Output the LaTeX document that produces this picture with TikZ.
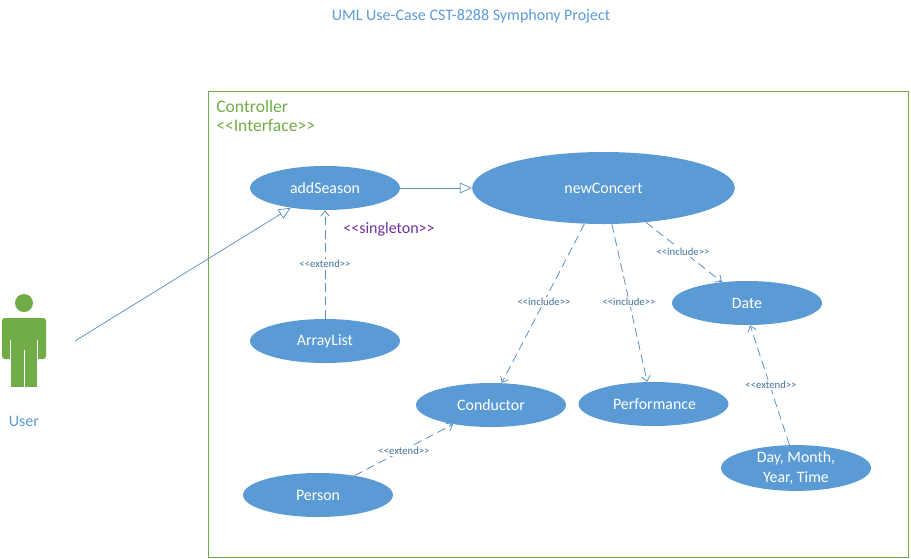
\documentclass[tikz,border=0pt]{standalone}
\usepackage{fontspec}
\setmainfont{Carlito}
\usetikzlibrary{shapes.geometric,arrows.meta}
\definecolor{ublue}{HTML}{5B9BD5}
\definecolor{uline}{HTML}{5B8FC4}
\definecolor{ugreen}{HTML}{70AD47}
\definecolor{utext}{HTML}{41719C}
\definecolor{upurple}{HTML}{7030A0}
\newcommand{\opn}{<\kern0pt<}
\newcommand{\cls}{>\kern0pt>}
\tikzset{
  usecase/.style={ellipse,fill=ublue,text=white,minimum width=112.5pt,minimum height=33pt,inner sep=0pt,font=\fontsize{11.9}{14.2}\selectfont,align=center},
  bigcase/.style={usecase,minimum width=197pt,minimum height=54pt},
  solidgen/.style={draw=uline,line width=0.55pt,-{Triangle[open,length=9pt,width=8pt,fill=white]}},
  dashdep/.style={draw=uline,line width=0.6pt,dash pattern=on 6.5pt off 3.5pt,-{Straight Barb[length=4pt,width=6.5pt]}},
  stereo/.style={text=utext,font=\fontsize{8}{9}\selectfont,inner sep=0pt,fill=white,inner ysep=1pt},
  titletext/.style={text=ublue,font=\fontsize{12}{14}\selectfont,inner sep=0pt},
  greentext/.style={text=ugreen,font=\fontsize{13.2}{16}\selectfont,inner sep=0pt,anchor=west},
}
\begin{document}
\begin{tikzpicture}[x=0.75pt,y=-0.75pt]
\useasboundingbox (0,0) rectangle (911,558);
\node[titletext] (title) at (471,16) {UML Use-Case CST-8288 Symphony Project};
\node[draw=ugreen,line width=0.6pt,minimum width=525pt,minimum height=349.5pt,inner sep=0pt] (frame) at (558,324) {};
\node[greentext] (ctrl) at (216,106) {Controller};
\node[greentext] (iface) at (216,126) {\opn Interface\cls};
% actor
\fill[ugreen] (24,303) circle (9);
\fill[ugreen,rounded corners=2pt] (2,359) -- (2,318) -- (46,318) -- (46,359) -- cycle;
\fill[ugreen] (11,340) rectangle (37,387);
\draw[white,line width=0.6pt] (10.5,340) -- (10.5,360) (37.5,340) -- (37.5,360) (24.5,350) -- (24.5,387);
\fill[white] (2,359.5) rectangle (10.2,370) (37.8,359.5) rectangle (46,370);
\node[titletext] (user) at (24,421) {User};
\coordinate (userend) at (75,341);
% use cases
\node[usecase] (addSeason) at (325,188) {\raisebox{-0.7pt}{addSeason}};
\node[bigcase] (newConcert) at (603.5,188) {\raisebox{-0.7pt}{newConcert}};
\node[usecase] (arrayList) at (325,341) {\raisebox{-0.7pt}{ArrayList}};
\node[usecase] (date) at (747,303) {\raisebox{-0.7pt}{Date}};
\node[usecase] (conductor) at (491,405) {\raisebox{-0.7pt}{Conductor}};
\node[usecase] (performance) at (653.5,404) {\kern1.5pt\raisebox{-0.7pt}{Performance}};
\node[usecase] (person) at (318,495) {\raisebox{-0.7pt}{Person}};
\node[usecase] (dmy) at (796,468) {\raisebox{-0.5pt}{Day, Month,}\\[0.3pt]\raisebox{-0.5pt}{Year, Time}};
% connectors
\draw[solidgen] (userend) -- (addSeason.210.5);
\draw[solidgen] (addSeason.east) -- (newConcert.west);
\draw[dashdep] (arrayList.north) -- (addSeason.south);
\draw[dashdep] (newConcert.242) -- (conductor.64.5);
\draw[dashdep] (newConcert.-77.5) -- (performance.106.7);
\draw[dashdep] (newConcert.-39.7) -- (date.140);
\draw[dashdep] (person.28.4) -- (conductor.207.8);
\draw[dashdep] (dmy.106.7) -- (date.-82);
% labels
\node[stereo] (l1) at (325,264) {\opn extend\cls};
\node[stereo] (l2) at (544,302) {\opn include\cls};
\node[stereo] (l3) at (629,302) {\opn include\cls};
\node[stereo] (l4) at (683,252) {\opn include\cls};
\node[stereo] (l5) at (404,451) {\opn extend\cls};
\node[stereo] (l6) at (771,385) {\opn extend\cls};
\node[text=upurple,font=\fontsize{12}{14}\selectfont,inner sep=0pt] (single) at (389,229.5) {\opn singleton\cls};
\end{tikzpicture}
\end{document}
